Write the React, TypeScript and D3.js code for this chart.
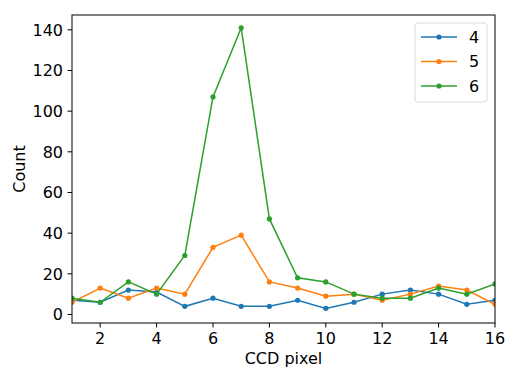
import React from "react";
import * as d3 from "d3";

const pixels = [1, 2, 3, 4, 5, 6, 7, 8, 9, 10, 11, 12, 13, 14, 15, 16];
const series4 = [7, 6, 12, 11, 4, 8, 4, 4, 7, 3, 6, 10, 12, 10, 5, 7];
const series5 = [6, 13, 8, 13, 10, 33, 39, 16, 13, 9, 10, 7, 10, 14, 12, 5];
const series6 = [8, 6, 16, 10, 29, 107, 141, 47, 18, 16, 10, 8, 8, 13, 10, 15];
const seriesNames = ["4", "5", "6"];
const colors = ["#1f77b4", "#ff7f0e", "#2ca02c"];
const xTicks = [2, 4, 6, 8, 10, 12, 14, 16];
const yTicks = [0, 20, 40, 60, 80, 100, 120, 140];

export default function App() {
  const width = 507;
  const height = 368;
  const margin = { top: 15, right: 12, bottom: 45, left: 72 };
  const font = "DejaVu Sans, sans-serif";

  const x = d3
    .scaleLinear()
    .domain([1, 16])
    .range([margin.left, width - margin.right]);
  const y = d3
    .scaleLinear()
    .domain([-4.2, 147.3])
    .range([height - margin.bottom, margin.top]);

  const allSeries = [series4, series5, series6];
  const line = d3
    .line<number>()
    .x((d, i) => x(pixels[i]))
    .y((d) => y(d));

  const x0 = margin.left;
  const x1 = width - margin.right;
  const y0 = height - margin.bottom;
  const y1 = margin.top;

  return (
    <svg
      width={width}
      height={height}
      style={{ position: "absolute", left: 0, top: 0, background: "#fff" }}
    >
      <defs>
        <clipPath id="plotClip">
          <rect x={x0} y={y1} width={x1 - x0} height={y0 - y1} />
        </clipPath>
      </defs>
      <g clipPath="url(#plotClip)">
        {allSeries.map((s, k) => (
          <g key={k}>
            <path d={line(s) || ""} fill="none" stroke={colors[k]} strokeWidth={1.5} />
            {s.map((v, i) => (
              <circle key={i} cx={x(pixels[i])} cy={y(v)} r={2.6} fill={colors[k]} />
            ))}
          </g>
        ))}
      </g>

      {/* axes frame */}
      <rect x={x0} y={y1} width={x1 - x0} height={y0 - y1} fill="none" stroke="#000" strokeWidth={1} />

      {xTicks.map((t) => (
        <g key={t}>
          <line x1={x(t)} x2={x(t)} y1={y0} y2={y0 + 4.5} stroke="#000" />
          <text x={x(t)} y={y0 + 21} textAnchor="middle" fontFamily={font} fontSize={16}>
            {t}
          </text>
        </g>
      ))}
      {yTicks.map((t) => (
        <g key={t}>
          <line x1={x0 - 4.5} x2={x0} y1={y(t)} y2={y(t)} stroke="#000" />
          <text
            x={x0 - 9}
            y={y(t)}
            dy="0.36em"
            textAnchor="end"
            fontFamily={font}
            fontSize={16}
          >
            {t}
          </text>
        </g>
      ))}

      <text x={(x0 + x1) / 2} y={364} textAnchor="middle" fontFamily={font} fontSize={16}>
        CCD pixel
      </text>
      <text
        transform={`translate(25,${(y0 + y1) / 2}) rotate(-90)`}
        textAnchor="middle"
        fontFamily={font}
        fontSize={16}
      >
        Count
      </text>

      {/* legend */}
      <g>
        <rect x={415} y={23} width={72} height={79} rx={3} fill="#fff" fillOpacity={0.8} stroke="#d9d9d9" />
        {seriesNames.map((n, k) => {
          const ly = 37 + k * 24.5;
          return (
            <g key={n}>
              <line x1={421} x2={457} y1={ly} y2={ly} stroke={colors[k]} strokeWidth={1.5} />
              <circle cx={439} cy={ly} r={2.6} fill={colors[k]} />
              <text x={469} y={ly} dy="0.36em" fontFamily={font} fontSize={16}>
                {n}
              </text>
            </g>
          );
        })}
      </g>
    </svg>
  );
}
